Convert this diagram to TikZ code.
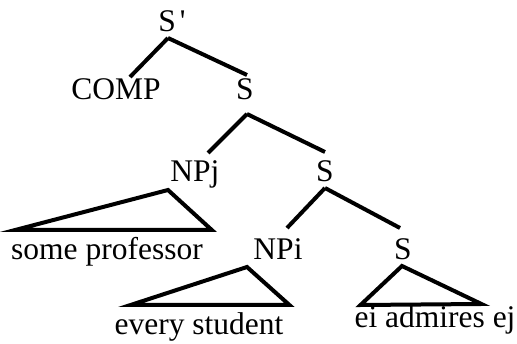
\documentclass[tikz,border=0pt]{standalone}
\usepackage{fontspec}
\setmainfont{Liberation Serif}

\begin{document}
\begin{tikzpicture}[x=1pt,y=-1pt,
  cat/.style={inner sep=0pt,outer sep=0pt,text height=21pt,text depth=0pt,anchor=base,font=\fontsize{31.5}{36}\selectfont},
  branch/.style={line width=4pt},
  roof/.style={line width=4pt,line join=miter}]
  \useasboundingbox (0,0) rectangle (517,344);
  % categories
  \node[cat] (sbar) at (172,32) {S\hspace{4pt}\textquotesingle};
  \node[cat] (comp) at (116,100) {COMP};
  \node[cat] (s2) at (245,100) {S};
  \node[cat] (npj) at (195,182) {NPj};
  \node[cat] (s3) at (325,182) {S};
  \node[cat] (npi) at (278,260) {NPi};
  \node[cat] (s4) at (403,260) {S};
  % leaves
  \node[cat] (prof) at (107,260) {some professor};
  \node[cat] (stud) at (199,335) {every student};
  \node[cat] (adm) at (435,328) {ei admires ej};
  % branches
  \draw[branch] ([xshift=-4pt,yshift=-6pt]sbar.south) -- ([xshift=14pt,yshift=2pt]comp.north);
  \draw[branch] ([xshift=-4pt,yshift=-6pt]sbar.south) -- ([xshift=2pt,yshift=4pt]s2.north);
  \draw[branch] ([xshift=2pt,yshift=-14pt]s2.south) -- ([xshift=13pt,yshift=8pt]npj.north);
  \draw[branch] ([xshift=2pt,yshift=-14pt]s2.south) -- ([yshift=9pt]s3.north);
  \draw[branch] ([yshift=-6pt]s3.south) -- ([xshift=9pt,yshift=11pt]npi.north);
  \draw[branch] ([yshift=-6pt]s3.south) -- ([xshift=-3pt,yshift=11pt]s4.north);
  % roofs
  \draw[roof] ([xshift=-27pt,yshift=-8pt]npj.south) -- ([xshift=4pt,yshift=9pt]prof.north west)
    -- ([xshift=9pt,yshift=9pt]prof.north east) -- cycle;
  \draw[roof] ([xshift=-31pt,yshift=-7pt]npi.south) -- ([xshift=16pt,yshift=9pt]stud.north west)
    -- ([xshift=6pt,yshift=9pt]stud.north east) -- cycle;
  \draw[roof] ([xshift=-1pt,yshift=-6pt]s4.south) -- ([xshift=6pt,yshift=2pt]adm.north west)
    -- ([xshift=-34pt,yshift=3pt]adm.north east) -- cycle;
\end{tikzpicture}
\end{document}
